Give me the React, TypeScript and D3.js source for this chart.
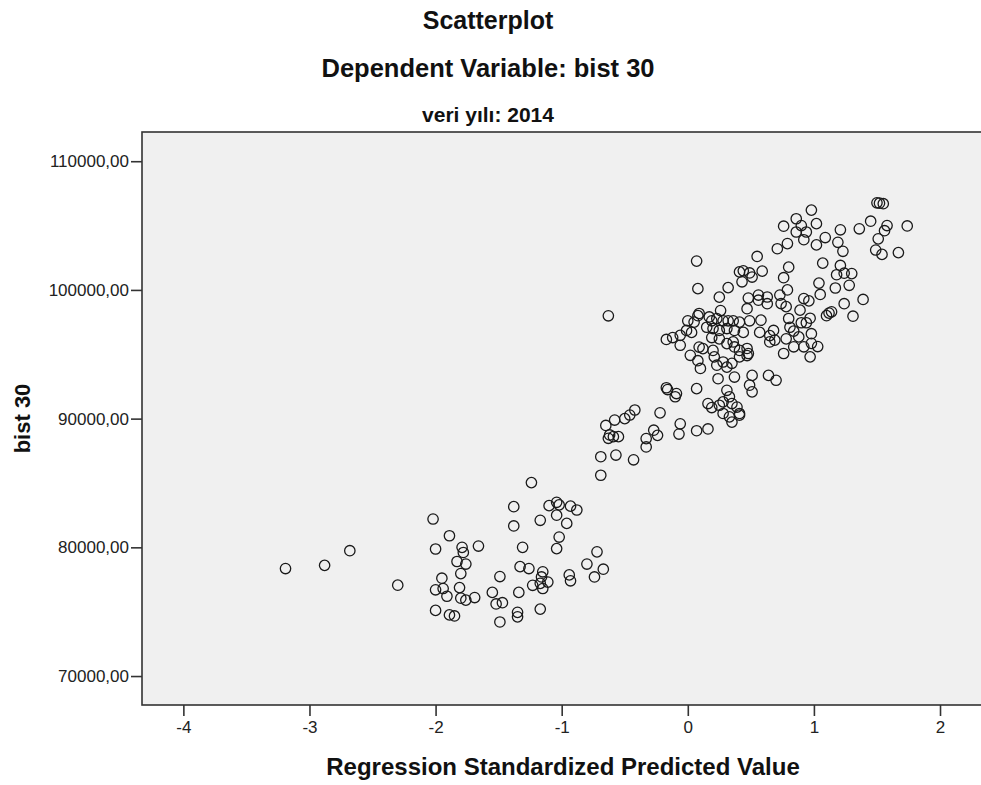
import React, { useEffect, useRef } from "react";
import * as d3 from "d3";

// Regression Standardized Predicted Value
const predicted: number[] = [
  -3.19, -2.88, -2.68, -2.3, -2.02, -1.89, -2.0, -1.79, -1.78, -1.66,
  -1.83, -1.76, -1.8, -1.95, -2.0, -1.94, -1.91, -1.81, -1.8, -1.76,
  -1.69, -2.0, -1.89, -1.85, -1.49, -1.55, -1.52, -1.47, -1.49, -1.38,
  -1.38, -0.65, -0.58, -0.62, -0.59, -0.55, -0.63, -0.27, -0.24, -0.33,
  -0.33, -0.06, -0.07, 0.07, -0.69, -0.57, -0.43, -0.69, -1.24, -1.1,
  -1.04, -1.02, -1.04, -0.93, -0.88, -1.17, -0.96, -1.02, -1.04, -1.31,
  -1.33, -1.26, -1.15, -1.16, -1.17, -1.11, -1.15, -1.23, -0.94, -0.93,
  -0.72, -0.8, -0.67, -0.74, -1.34, -1.17, -1.35, -1.35,
  0.07, 0.08, -0.63, 0.55, 0.41, 0.44, 0.49, 0.43, 0.51, 0.32,
  0.25, 0.48, 0.56, 0.56, 0.47, 0.26, 0.08, 0.0, 0.05, -0.01,
  0.03, -0.06, -0.17, -0.12, -0.06, 0.19, 0.23, 0.28, 0.32, 0.36,
  0.41, 0.49, 0.15, 0.2, 0.25, 0.31, 0.37, 0.44, 0.57, 0.25,
  0.19, 0.12, 0.02, 0.08, 0.1, 0.2, 0.21, 0.23, 0.28, 0.31,
  0.35, 0.37, 0.41, 0.47, 0.47, 0.41, 0.24, 0.37, 0.51, 0.07,
  -0.17, -0.16, -0.09, -0.1, 0.16, 0.19, 0.25, 0.28, 0.33, 0.35,
  0.39, 0.41, 0.33, 0.51, 0.49, 0.31, -0.22, 0.16, -0.42, -0.46,
  -0.5,
  0.98, 0.86, 0.9, 0.94, 1.02, 0.86, 0.76, 0.92, 1.09, 1.02,
  0.71, 0.79, 1.07, 0.59, 0.8, 0.76, 0.79, 0.63, 0.63, 0.73,
  0.74, 0.78, 1.04, 1.05, 1.1, 1.12, 0.92, 0.96, 0.89, 0.97,
  0.9, 0.94, 0.8, 0.81, 0.84, 0.98, 0.88, 1.03, 0.98, 0.65,
  0.68, 0.69, 0.65, 0.58, 0.97, 0.92, 0.84, 0.78, 0.76, 0.64,
  0.7, 0.41, 0.35, 0.28, 0.09, 0.17, 0.31, 0.36, 0.48, 0.09,
  1.5, 1.52, 1.55, 1.21, 1.19, 1.23, 1.36, 1.45, 1.58, 1.56,
  1.51, 1.49, 1.54, 1.67, 1.74, 1.21, 1.18, 1.24, 1.3, 1.28,
  1.17, 1.39, 1.24, 1.31, 1.14,
];

// bist 30
const bist30: number[] = [
  78350, 78600, 79740, 77060, 82200, 80900, 79870, 80000, 79600, 80100,
  78900, 78700, 77960, 77600, 76700, 76800, 76200, 76870, 76050, 75900,
  76100, 75100, 74750, 74670, 77730, 76500, 75600, 75700, 74200, 83160,
  81660, 89470, 89890, 88730, 88600, 88600, 88470, 89100, 88700, 88450,
  87800, 89600, 88800, 89060, 87040, 87170, 86800, 85600, 85030, 83240,
  83500, 83300, 82500, 83200, 82900, 82100, 81860, 80800, 79900, 80000,
  78500, 78350, 78100, 77700, 77200, 77300, 76800, 77050, 77860, 77400,
  79650, 78700, 78300, 77700, 76500, 75200, 74950, 74600,
  102240, 100100, 97990, 102600, 101400, 101480, 101320, 100630, 101000, 100180,
  99440, 99370, 99600, 99200, 98540, 98400, 98000, 97600, 97500, 96850,
  96700, 96470, 96150, 96300, 95700, 97600, 97770, 97600, 97600, 97600,
  97500, 97600, 97100, 97000, 96850, 97000, 96850, 96700, 96700, 96200,
  96300, 95440, 94920, 94500, 93900, 95300, 94800, 94150, 94400, 94000,
  94300, 95570, 95300, 95450, 94900, 94800, 93100, 93230, 93360, 92330,
  92400, 92260, 91950, 91700, 91170, 90860, 91040, 91300, 91700, 91170,
  90900, 90400, 90140, 92080, 92600, 92200, 90450, 89200, 90670, 90280,
  90000,
  106200, 105530, 105000, 104500, 105150, 104500, 104950, 103900, 104070, 103500,
  103200, 103600, 102080, 101460, 101770, 100950, 100000, 99450, 98930, 99600,
  98940, 98700, 100530, 99650, 98000, 98200, 99330, 99150, 98430, 97800,
  97450, 97450, 97780, 97100, 96800, 96600, 96350, 95600, 95850, 96450,
  96850, 96100, 95960, 97650, 94800, 95580, 95580, 96200, 95060, 93360,
  92980, 90270, 89730, 90400, 98170, 97900, 95830, 95960, 95060, 95560,
  106770, 106740, 106700, 104670, 103700, 103000, 104750, 105340, 105000, 104600,
  103970, 103100, 102760, 102900, 104970, 101900, 101180, 101300, 101270, 100360,
  100150, 99260, 98930, 97960, 98300,
];

const xTicks = [-4, -3, -2, -1, 0, 1, 2];
const yTicks = [70000, 80000, 90000, 100000, 110000];

const W = 981;
const H = 785;
const FONT = "'Liberation Sans', Arial, sans-serif";

const App: React.FC = () => {
  const ref = useRef<SVGSVGElement>(null);

  useEffect(() => {
    document.body.style.margin = "0";
    const svg = d3.select(ref.current);
    svg.selectAll("*").remove();

    const left = 142;
    const top = 132;
    const bottom = 705;
    const right = 984;

    const x = d3.scaleLinear().domain([-4.328, 2.325]).range([left, W]);
    const y = d3.scaleLinear().domain([67750, 112270]).range([bottom, top]);

    const fmt = (v: number) => d3.format(".2f")(v).replace(".", ",");

    // titles, centred on the whole chart
    const titles = [
      { t: "Scatterplot", y: 29, s: 25 },
      { t: "Dependent Variable: bist 30", y: 77, s: 25.5 },
      { t: "veri yılı: 2014", y: 122, s: 21 },
    ];
    svg.selectAll("text.title")
      .data(titles)
      .enter()
      .append("text")
      .attr("class", "title")
      .attr("x", 488)
      .attr("y", (d) => d.y)
      .attr("text-anchor", "middle")
      .style("font-family", FONT)
      .style("font-weight", "bold")
      .style("font-size", (d) => d.s + "px")
      .style("fill", "#111")
      .text((d) => d.t);

    // plot box
    svg.append("rect")
      .attr("x", left)
      .attr("y", top)
      .attr("width", right + 6 - left)
      .attr("height", bottom - top)
      .style("fill", "#f0f0f0")
      .style("stroke", "#333")
      .style("stroke-width", 1.6);

    // y axis
    const yAxis = svg.append("g")
      .attr("transform", `translate(${left},0)`)
      .call(d3.axisLeft(y).tickValues(yTicks).tickSize(11).tickSizeOuter(0).tickFormat((d) => fmt(+d)));
    yAxis.select(".domain").remove();
    yAxis.selectAll("line").style("stroke", "#333").style("stroke-width", 1.6);
    yAxis.selectAll("text")
      .attr("x", -13)
      .style("font-family", FONT)
      .style("font-size", "17px")
      .style("fill", "#222");

    // x axis
    const xAxis = svg.append("g")
      .attr("transform", `translate(0,${bottom})`)
      .call(d3.axisBottom(x).tickValues(xTicks).tickSize(11).tickSizeOuter(0).tickFormat((d) => String(d)));
    xAxis.select(".domain").remove();
    xAxis.selectAll("line").style("stroke", "#333").style("stroke-width", 1.6);
    xAxis.selectAll("text")
      .attr("y", 16)
      .style("font-family", FONT)
      .style("font-size", "17px")
      .style("fill", "#222");

    // axis titles, centred on their axes
    svg.append("text")
      .attr("x", (left + right) / 2)
      .attr("y", 775)
      .attr("text-anchor", "middle")
      .style("font-family", FONT)
      .style("font-weight", "bold")
      .style("font-size", "24px")
      .style("fill", "#111")
      .text("Regression Standardized Predicted Value");

    svg.append("text")
      .attr("transform", `translate(30,${(top + bottom) / 2}) rotate(-90)`)
      .attr("text-anchor", "middle")
      .style("font-family", FONT)
      .style("font-weight", "bold")
      .style("font-size", "22px")
      .style("fill", "#111")
      .text("bist 30");

    // points
    const pts = predicted.map((p, i) => ({ p, v: bist30[i] }));
    svg.append("g")
      .selectAll("circle")
      .data(pts)
      .enter()
      .append("circle")
      .attr("cx", (d) => x(d.p))
      .attr("cy", (d) => y(d.v))
      .attr("r", 5.2)
      .style("fill", "none")
      .style("stroke", "#1a1a1a")
      .style("stroke-width", 1.3);
  }, []);

  return <svg ref={ref} width={W} height={H} style={{ display: "block", background: "#fff" }} />;
};

export default App;
